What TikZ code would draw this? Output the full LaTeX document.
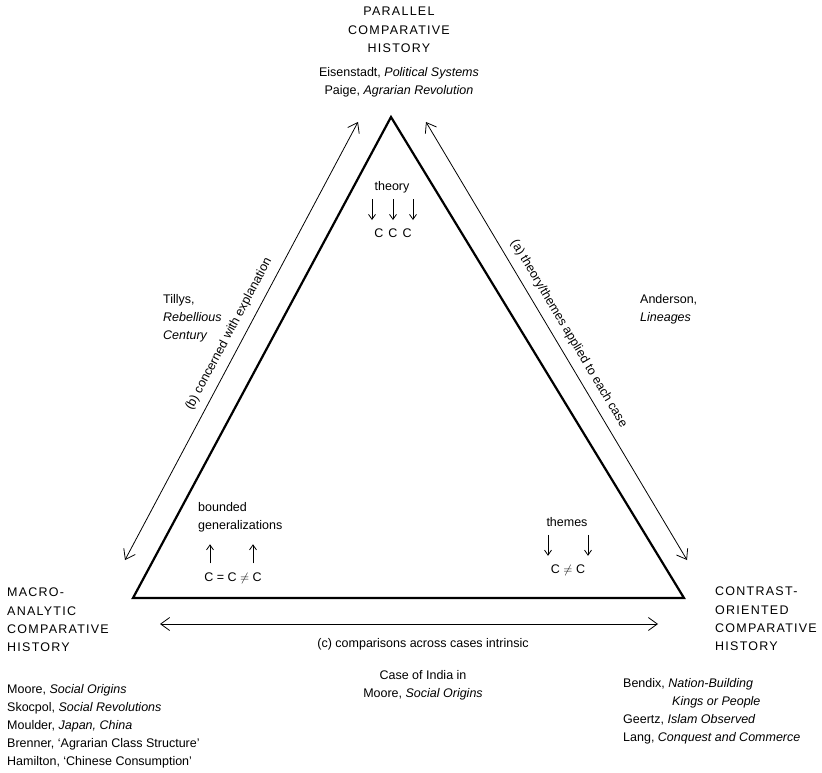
\documentclass[tikz,border=0pt]{standalone}
\usepackage{fontspec}
\setmainfont{Liberation Sans}
\newfontfamily\capsfont[LetterSpace=10]{Liberation Sans}
\usetikzlibrary{arrows.meta, positioning}

\tikzset{
  lbl/.style={font=\fontsize{12.5}{18}\selectfont, inner sep=0pt},
  caps/.style={font=\capsfont\fontsize{12.5}{18.3}\selectfont, inner sep=0pt},
  side/.style={line width=2.2pt, line join=miter},
  link/.style={line width=0.8pt, {Straight Barb[length=9pt,width=13pt]}-{Straight Barb[length=9pt,width=13pt]}},
  tick/.style={line width=0.8pt, -{Straight Barb[length=5pt,width=7pt]}}
}

\begin{document}
\begin{tikzpicture}[x=1pt, y=-1pt]
  \useasboundingbox (0,0) rectangle (822,773);

  % corners of the triangle
  \coordinate (par) at (391,117);
  \coordinate (mac) at (133,598);
  \coordinate (con) at (684,598);
  \draw[side] (par) -- (mac) -- (con) -- cycle;

  % ends of the outer arrows
  \coordinate (b1) at (125,560);
  \coordinate (b2) at (358,122);
  \coordinate (a1) at (426,122);
  \coordinate (a2) at (687,560);
  \coordinate (c1) at (160,624);
  \coordinate (c2) at (658,624);

  \draw[link] (b1) -- node[lbl, sloped, above=8pt, pos=.5] {(b) concerned with explanation} (b2);
  \draw[link] (a1) -- node[lbl, sloped, above=8pt, pos=.5] {(a) theory/themes applied to each case} (a2);
  \draw[link] (c1) -- node[lbl, below=14pt, xshift=14pt] (cmp) {(c) comparisons across cases intrinsic} (c2);
  \node[lbl, align=center, below=20pt of cmp] (india) {Case of India in\\Moore, \textit{Social Origins}};

  % the three corners
  \node[caps, align=center, anchor=north] (parallel) at (399,7) {PARALLEL\\COMPARATIVE\\HISTORY};
  \node[lbl, align=center, anchor=north] (partext) at (399,67) {Eisenstadt, \textit{Political Systems}\\Paige, \textit{Agrarian Revolution}};

  \node[caps, align=left, anchor=north west] (macro) at (7,588) {MACRO-\\ANALYTIC\\COMPARATIVE\\HISTORY};
  \node[lbl, align=left, anchor=north west] (mactext) at (7,684) {Moore, \textit{Social Origins}\\Skocpol, \textit{Social Revolutions}\\Moulder, \textit{Japan, China}\\Brenner, `Agrarian Class Structure'\\Hamilton, `Chinese Consumption'};

  \node[caps, align=left, anchor=north west] (contrast) at (715,587) {CONTRAST-\\ORIENTED\\COMPARATIVE\\HISTORY};
  \node[lbl, align=left, anchor=north west] (context) at (623,678) {Bendix, \textit{Nation-Building}\\\hspace*{49pt}\textit{Kings or People}\\Geertz, \textit{Islam Observed}\\Lang, \textit{Conquest and Commerce}};

  % side examples
  \node[lbl, align=left, anchor=north west] (tilly) at (163,294) {Tillys,\\\textit{Rebellious}\\\textit{Century}};
  \node[lbl, align=left, anchor=north west] (anderson) at (640,294) {Anderson,\\\textit{Lineages}};

  % inside the triangle
  \node[lbl] (theory) at (392,187) {theory};
  \node[lbl] (ccc) at (393,233) {C\hspace{5pt}C\hspace{5pt}C};
  \foreach \dx in {-20,1,21}
    \draw[tick] ([xshift=\dx pt, yshift=-6pt]theory.south) -- ++(0,21);

  \node[lbl, align=left, anchor=north west] (bounded) at (198,502) {bounded\\generalizations};
  \node[lbl] (ceq) at (233,578) {C = C $\neq$ C};
  \foreach \dx in {-23,20}
    \draw[tick] ([xshift=\dx pt, yshift=9pt]ceq.north) -- ++(0,-19);

  \node[lbl] (themes) at (567,522) {themes};
  \node[lbl] (cne) at (568,570) {C $\neq$ C};
  \foreach \dx in {-19,21}
    \draw[tick] ([xshift=\dx pt, yshift=-8pt]themes.south) -- ++(0,21);
\end{tikzpicture}
\end{document}
